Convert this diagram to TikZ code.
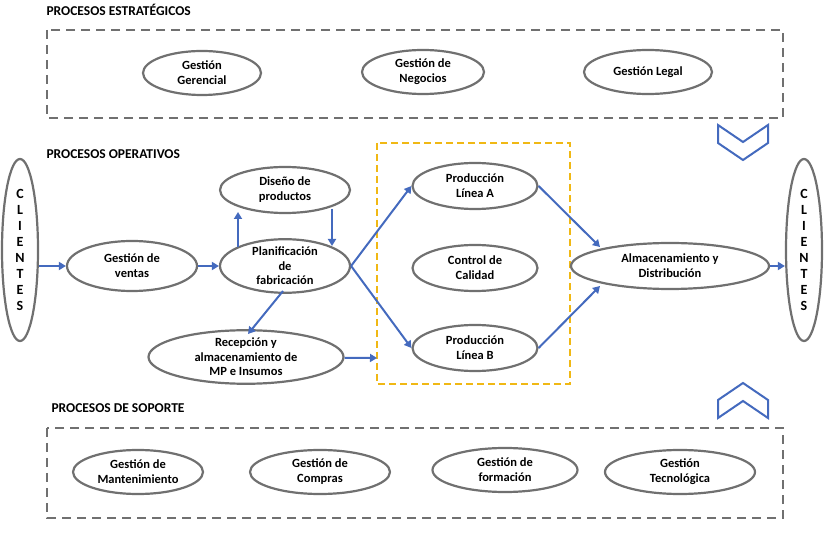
\documentclass[tikz,border=0pt]{standalone}
\usepackage{fontspec}
\setmainfont{Carlito}
\usetikzlibrary{arrows.meta,shapes.geometric}
\definecolor{gr}{RGB}{112,112,112}
\definecolor{bl}{RGB}{68,106,190}
\definecolor{yl}{RGB}{240,184,20}
\begin{document}
\begin{tikzpicture}[x=1pt,y=-1pt,
  el/.style={draw=gr,line width=2.2pt,ellipse,minimum width=#1,minimum height=44pt,inner sep=0pt,align=center,font=\bfseries\fontsize{12.5}{15}\selectfont},
  el/.default=125pt,
  ttl/.style={anchor=west,font=\bfseries\fontsize{13.5}{15}\selectfont},
  box/.style={draw=gr,line width=2pt,dash pattern=on 9pt off 6pt},
  arr/.style={draw=bl,line width=2pt,-{Triangle[length=7pt,width=8pt]}},
  chev/.style={draw=bl,line width=2pt,fill=white}]
\useasboundingbox (0,0) rectangle (825,534);
\node[ttl] (t1) at (43,10) {PROCESOS ESTRATÉGICOS};
\node[ttl] (t2) at (43,154) {PROCESOS OPERATIVOS};
\node[ttl] (t3) at (48,408) {PROCESOS DE SOPORTE};
\draw[box] (47,30) rectangle (783,118);
\draw[box] (47,428) rectangle (783,518);
\draw[draw=yl,line width=2pt,dash pattern=on 7pt off 4pt] (377,143) rectangle (570,384);
\draw[chev] (718,125)--(743,142)--(768,125)--(768,143)--(743,160)--(718,143)--cycle;
\draw[chev] (718,418)--(743,401)--(768,418)--(768,400)--(743,383)--(718,400)--cycle;
\node[el=118pt] (gg) at (202,73) {Gestión\\Gerencial};
\node[el=122pt] (gn) at (423,72) {Gestión de\\Negocios};
\node[el=128pt] (gl) at (648,72) {Gestión Legal};
\node[el=36pt,minimum height=182pt,font=\bfseries\fontsize{14}{16}\selectfont] (cl) at (20,250) {C\\L\\I\\E\\N\\T\\E\\S};
\node[el=36pt,minimum height=182pt,font=\bfseries\fontsize{14}{16}\selectfont] (cr) at (804,250) {C\\L\\I\\E\\N\\T\\E\\S};
\node[el=130pt,minimum height=50pt] (gv) at (132,266) {Gestión de\\ventas};
\node[el=130pt,minimum height=46pt] (dp) at (285,190) {Diseño de\\productos};
\node[el=130pt,minimum height=50pt,font=\bfseries\fontsize{12.5}{14.5}\selectfont] (pf) at (285,266) {Planificación\\de\\fabricación};
\node[el=195pt,minimum height=50pt,font=\bfseries\fontsize{12.5}{14.5}\selectfont] (re) at (246,357) {Recepción y\\almacenamiento de\\MP e Insumos};
\node[el=125pt,minimum height=46pt] (pa) at (475,186) {Producción\\Línea A};
\node[el=125pt,minimum height=46pt] (cc) at (475,268) {Control de\\Calidad};
\node[el=125pt,minimum height=46pt] (pb) at (475,348) {Producción\\Línea B};
\node[el=198pt,minimum height=46pt] (al) at (670,266) {Almacenamiento y\\Distribución};
\node[el=130pt] (m1) at (138,472) {Gestión de\\Mantenimiento};
\node[el=140pt] (m2) at (320,472) {Gestión de\\Compras};
\node[el=145pt] (m3) at (505,470) {Gestión de\\formación};
\node[el=150pt] (m4) at (680,472) {Gestión\\Tecnológica};
\coordinate (ye) at (377,358);
\draw[arr] (cl.east|-gv) -- (gv);
\draw[arr] (gv) -- (pf);
\draw[arr] (238,247) -- (238,212);
\draw[arr] (332,209) -- (332,246);
\draw[arr] (283,291) -- (248,334);
\draw[arr] (pf.east) -- (pa.west);
\draw[arr] (pf.east) -- (pb.west);
\draw[arr] (re) -- (ye);
\draw[arr] (pa.east) -- (600,247);
\draw[arr] (pb.east) -- (600,286);
\draw[arr] (al) -- (cr.west|-al);
\end{tikzpicture}
\end{document}
